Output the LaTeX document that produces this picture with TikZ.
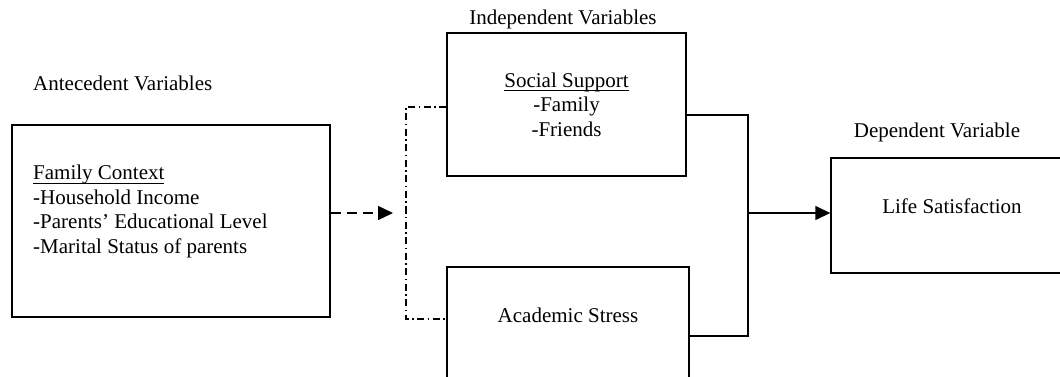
\documentclass[tikz,border=0pt]{standalone}
\usepackage{fontspec}
\setmainfont{Liberation Serif}
\usetikzlibrary{arrows.meta,positioning}
\newcommand{\ulabel}[1]{\setbox0\hbox{#1}\rlap{\rule[-4pt]{\wd0}{1pt}}\box0}

\begin{document}
\begin{tikzpicture}[x=1pt,y=-1pt,>={Triangle[length=15pt,width=14pt]},
 varbox/.style={draw,line width=1.4pt,inner sep=0pt},
 txt/.style={font=\fontsize{21}{24.5}\selectfont,inner sep=0pt},
 link/.style={line width=1.4pt},
 dashdot/.style={line width=1.2pt,dash pattern=on 7pt off 3.5pt on 1.5pt off 3.5pt}]
 \useasboundingbox (0,0) rectangle (1060,377);
 % boxes
 \node[varbox,minimum width=318,minimum height=192] (family) at (171,221) {};
 \node[varbox,txt,align=center,minimum width=239,minimum height=143] (support) at (566.5,104.5)
  {\ulabel{Social Support}\\-Family\\-Friends};
 \node[varbox,minimum width=242,minimum height=150] (stress) at (568,342) {};
 \node[varbox,minimum width=242,minimum height=115] (life) at (952,215.5) {};
 % texts
 \node[txt,anchor=west,align=left] (familytxt) at (33,211.5)
  {\ulabel{Family Context}\\-Household Income\\-Parents’ Educational Level\\-Marital Status of parents};
 \node[txt] (stresstxt) at (568,315) {Academic Stress};
 \node[txt] (lifetxt) at (952,206) {Life Satisfaction};
 \node[txt,anchor=west] (antehead) at (33,83) {Antecedent Variables};
 \node[txt] (indhead) at (563,19) {Independent Variables};
 \node[txt] (dephead) at (937,132) {Dependent Variable};
 % connectors
 \coordinate (fork) at (406,213);
 \coordinate (join) at (748,213);
 \draw[link,dash pattern=on 10pt off 6pt,->] (family.east |- fork) -- ([xshift=-13pt]fork);
 \draw[dashdot] ([yshift=-2.5pt]support.west) -| (fork) |- ([yshift=23pt]stress.west);
 \draw[link] ([yshift=-10.5pt]support.east) -| (join) |- ([yshift=6pt]stress.east);
 \draw[link,->] (join) -- (life.west |- join);
\end{tikzpicture}
\end{document}
